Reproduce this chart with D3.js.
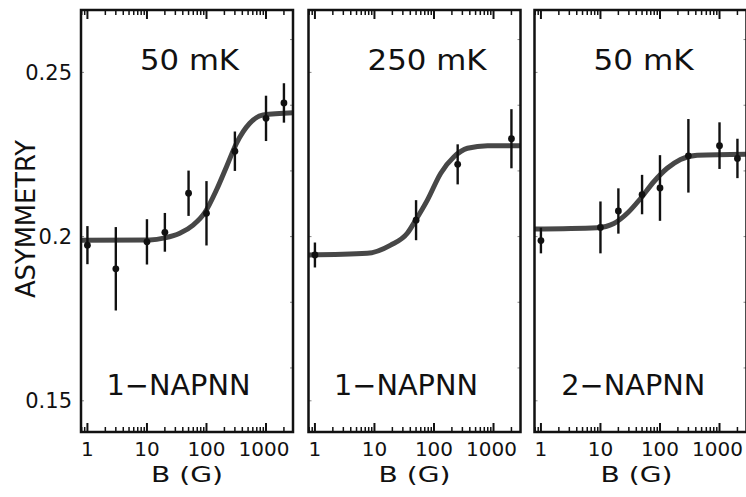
<!DOCTYPE html>
<html><head><meta charset="utf-8">
<script src="https://cdn.jsdelivr.net/npm/d3@7"></script>
<style>html,body{margin:0;padding:0;background:#fff;}svg{display:block;font-family:"DejaVu Sans",Verdana,sans-serif;}</style>
</head><body>
<svg id="c" width="746" height="497"></svg>
<script>
// ---- data ----
const panelTemps = ["50 mK", "250 mK", "50 mK"];
const panelNames = ["1\u2212NAPNN", "1\u2212NAPNN", "2\u2212NAPNN"];
const xTickLabels = ["1", "10", "100", "1000"];
const yTickLabels = ["0.15", "0.2", "0.25"];

// panel 1: 1-NAPNN, 50 mK
const field1 = [1, 3, 10, 20, 50, 100, 300, 1000, 2000];
const asym1  = [0.1974, 0.1902, 0.1984, 0.2013, 0.2132, 0.2071, 0.2260, 0.2360, 0.2407];
const err1   = [0.0058, 0.0127, 0.0069, 0.0059, 0.0069, 0.0098, 0.0060, 0.0069, 0.0060];
const fitField1 = [0.78, 11.2, 20, 35.6, 59.6, 93.6, 147, 217, 319, 533, 891, 2840];
const fitAsym1  = [0.1989, 0.1990, 0.1996, 0.2010, 0.2035, 0.2073, 0.2142, 0.2213, 0.2284, 0.2345, 0.2370, 0.2377];

// panel 2: 1-NAPNN, 250 mK
const field2 = [1, 50, 250, 2000];
const asym2  = [0.1944, 0.2050, 0.2220, 0.2298];
const err2   = [0.0038, 0.0061, 0.0061, 0.0090];
const fitField2 = [0.78, 7.57, 18.7, 35.6, 49.2, 77.4, 130, 217, 365, 793, 2840];
const fitAsym2  = [0.1944, 0.1949, 0.1974, 0.2010, 0.2050, 0.2111, 0.2193, 0.2243, 0.2269, 0.2277, 0.2277];

// panel 3: 2-NAPNN, 50 mK
const field3 = [1, 10, 20, 50, 100, 300, 1000, 2000];
const asym3  = [0.1988, 0.2028, 0.2078, 0.2128, 0.2148, 0.2246, 0.2277, 0.2238];
const err3   = [0.0039, 0.0079, 0.0069, 0.0060, 0.0100, 0.0112, 0.0071, 0.0060];
const fitField3 = [0.78, 8.84, 16.8, 28.2, 47.1, 78.7, 132, 221, 421, 2840];
const fitAsym3  = [0.2023, 0.2027, 0.2040, 0.2071, 0.2116, 0.2167, 0.2208, 0.2235, 0.2248, 0.2251];

const xDomain = [0.78, 2840];
const yDomain = [0.1405, 0.2690];
const xMajor = [1, 10, 100, 1000];
const yLabelValues = [0.15, 0.20, 0.25];
const yMinorValues = [0.16, 0.18, 0.20, 0.22, 0.24, 0.26];

// ---- layout ----
const svg = d3.select("#c");
const yTop = 10, yBottom = 432, pw = 212;
const lefts = [81, 308.5, 534.5];
const tempX = [108.5, 118.5, 109];
const tempLen = [99, 119, 100];
const nameX = [97.5, 97.5, 98.8];
const titleX = [106, 106, 102];
const sets = [
  {B: field1, A: asym1, E: err1, fB: fitField1, fA: fitAsym1},
  {B: field2, A: asym2, E: err2, fB: fitField2, fA: fitAsym2},
  {B: field3, A: asym3, E: err3, fB: fitField3, fA: fitAsym3}
];

const y = d3.scaleLinear().domain(yDomain).range([yBottom, yTop]);

// minor log ticks
const minorTicks = [];
[0.1, 1, 10, 100, 1000].forEach(d => { for (let k = 1; k <= 9; k++) { const v = +(d * k).toPrecision(6); if (v >= 0.79 && v <= 2800 && !xMajor.includes(v)) minorTicks.push(v); } });

sets.forEach((s, i) => {
  const L = lefts[i];
  const x = d3.scaleLog().domain(xDomain).range([L, L + pw]);
  const g = svg.append("g");
  const clipId = "clip" + i;
  svg.append("clipPath").attr("id", clipId).append("rect")
    .attr("x", L).attr("y", yTop).attr("width", pw).attr("height", yBottom - yTop);

  // fit curve
  const line = d3.line().x((d, k) => x(s.fB[k])).y((d, k) => y(s.fA[k])).curve(d3.curveMonotoneX);
  g.append("path").datum(s.fB).attr("d", line).attr("clip-path", `url(#${clipId})`)
    .attr("fill", "none").attr("stroke", "#474747").attr("stroke-width", 5).attr("stroke-linecap", "round");

  // error bars
  g.selectAll("line.err").data(s.B).enter().append("line")
    .attr("x1", d => x(d)).attr("x2", d => x(d))
    .attr("y1", (d, k) => y(s.A[k] - s.E[k])).attr("y2", (d, k) => y(s.A[k] + s.E[k]))
    .attr("stroke", "#111").attr("stroke-width", 2.4);
  g.selectAll("circle").data(s.B).enter().append("circle")
    .attr("cx", d => x(d)).attr("cy", (d, k) => y(s.A[k])).attr("r", 3.4).attr("fill", "#111");

  // x axis ticks (top and bottom, inward)
  const tg = g.append("g").attr("stroke", "#111");
  xMajor.forEach(v => {
    tg.append("line").attr("x1", x(v)).attr("x2", x(v)).attr("y1", yBottom).attr("y2", yBottom - 9).attr("stroke-width", 2);
    tg.append("line").attr("x1", x(v)).attr("x2", x(v)).attr("y1", yTop).attr("y2", yTop + 9).attr("stroke-width", 2);
  });
  minorTicks.forEach(v => {
    tg.append("line").attr("x1", x(v)).attr("x2", x(v)).attr("y1", yBottom).attr("y2", yBottom - 5).attr("stroke-width", 1.5);
    tg.append("line").attr("x1", x(v)).attr("x2", x(v)).attr("y1", yTop).attr("y2", yTop + 5).attr("stroke-width", 1.5);
  });
  // y ticks (small, inward)
  yMinorValues.forEach(v => {
    tg.append("line").attr("x1", L + pw).attr("x2", L + pw - 3).attr("y1", y(v)).attr("y2", y(v)).attr("stroke-width", 1).attr("stroke", "#888");
  });
  yLabelValues.forEach(v => {
    tg.append("line").attr("x1", L).attr("x2", L + 3).attr("y1", y(v)).attr("y2", y(v)).attr("stroke-width", 1).attr("stroke", "#888");
  });

  // frame
  g.append("rect").attr("x", L).attr("y", yTop).attr("width", pw).attr("height", yBottom - yTop)
    .attr("fill", "none").attr("stroke", "#111").attr("stroke-width", 2.5);

  // x tick labels
  g.selectAll("text.xt").data(xMajor).enter().append("text")
    .attr("x", d => x(d) - (d === 1000 ? 2 : 0)).attr("y", 455.5).attr("text-anchor", "middle")
    .attr("font-size", 20).attr("fill", "#111").text((d, k) => xTickLabels[k]);
  // x axis title
  g.append("text").attr("x", L + titleX[i]).attr("y", 482).attr("text-anchor", "middle")
    .attr("font-size", 21).attr("fill", "#111").attr("textLength", 72).attr("lengthAdjust", "spacingAndGlyphs").text("B (G)");

  // panel annotations
  g.append("text").attr("x", L + tempX[i]).attr("y", 70).attr("text-anchor", "middle")
    .attr("font-size", 28).attr("fill", "#111").attr("textLength", tempLen[i]).attr("lengthAdjust", "spacingAndGlyphs").text(panelTemps[i]);
  g.append("text").attr("x", L + nameX[i]).attr("y", 395).attr("text-anchor", "middle")
    .attr("font-size", 28).attr("fill", "#111").attr("textLength", 144).attr("lengthAdjust", "spacingAndGlyphs").text(panelNames[i]);
});

// y tick labels
svg.selectAll("text.yt").data(yLabelValues).enter().append("text")
  .attr("x", 72).attr("y", d => y(d) + 7.5).attr("text-anchor", "end")
  .attr("font-size", 21).attr("fill", "#111").text((d, k) => yTickLabels[k]);

// y axis title
svg.append("text").attr("transform", "translate(34.5,219) rotate(-90)").attr("text-anchor", "middle")
  .attr("font-size", 26).attr("fill", "#111").attr("textLength", 158).attr("lengthAdjust", "spacingAndGlyphs").text("ASYMMETRY");
</script>
</body></html>
